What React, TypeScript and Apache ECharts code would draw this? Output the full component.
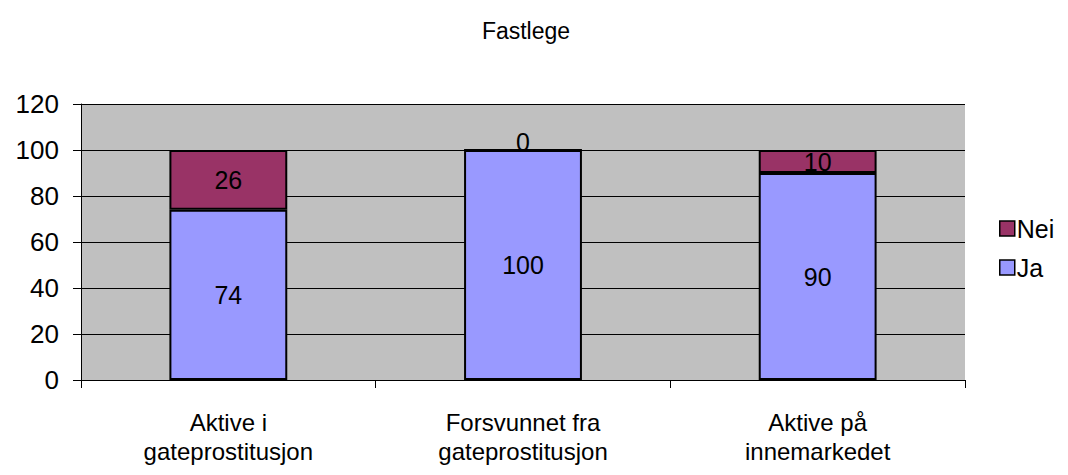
import React, { useEffect, useRef } from "react";
import * as echarts from "echarts";

const categories = ["Aktive i\ngateprostitusjon", "Forsvunnet fra\ngateprostitusjon", "Aktive på\ninnemarkedet"];
const jaValues = [74, 100, 90];
const neiValues = [26, 0, 10];
const titleText = "Fastlege";

export default function App() {
  const ref = useRef<HTMLDivElement>(null);
  useEffect(() => {
    const chart = echarts.init(ref.current!, null, { renderer: "svg" });
    const font = "Liberation Sans";
    const fs = 25;
    chart.setOption({
      animation: false,
      backgroundColor: "#fff",
      textStyle: { fontFamily: font },
      title: {
        text: titleText,
        left: 521,
        top: 14,
        textAlign: "center",
        textStyle: { fontFamily: font, fontSize: 23, fontWeight: "normal", color: "#000" },
      },
      legend: {
        data: ["Nei", "Ja"],
        orient: "vertical",
        left: 994,
        top: 209,
        itemWidth: 15,
        itemHeight: 15,
        itemGap: 10,
        icon: "rect",
        itemStyle: { borderColor: "#000", borderWidth: 1.5 },
        textStyle: { fontFamily: font, fontSize: 25, color: "#000", padding: [0, 0, 0, -3], lineHeight: 29 },
      },
      grid: {
        left: 81,
        right: 103,
        top: 104,
        bottom: 95,
        show: true,
        backgroundColor: "#C0C0C0",
        borderWidth: 0,
      },
      xAxis: {
        type: "category",
        data: categories,
        axisLine: { lineStyle: { color: "#000", width: 1 } },
        axisTick: { show: true, length: 8, lineStyle: { color: "#000" } },
        axisLabel: { fontFamily: font, fontSize: 24, color: "#000", margin: 28, lineHeight: 29 },
      },
      yAxis: {
        type: "value",
        min: 0,
        max: 120,
        interval: 20,
        axisLine: { show: true, lineStyle: { color: "#000", width: 1 } },
        axisTick: { show: true, length: 8, lineStyle: { color: "#000" } },
        axisLabel: { fontFamily: font, fontSize: 26, color: "#000", margin: 22 },
        splitLine: { show: true, lineStyle: { color: "#000", width: 1 } },
      },
      series: [
        {
          name: "Ja",
          type: "bar",
          stack: "a",
          data: jaValues,
          barWidth: "40%",
          itemStyle: { color: "#9999FF", borderColor: "#000", borderWidth: 2 },
          label: { show: true, position: "inside", fontFamily: font, fontSize: fs, color: "#000" },
        },
        {
          name: "Nei",
          type: "bar",
          stack: "a",
          data: neiValues.map((v) => (v === 0 ? { value: v, label: { offset: [0, -8] } } : v)),
          barWidth: "40%",
          itemStyle: { color: "#993366", borderColor: "#000", borderWidth: 2 },
          label: { show: true, position: "inside", fontFamily: font, fontSize: fs, color: "#000" },
        },
      ],
    });
    return () => chart.dispose();
  }, []);
  return <div ref={ref} style={{ width: 1068, height: 475, position: "absolute", left: 0, top: 0 }} />;
}
